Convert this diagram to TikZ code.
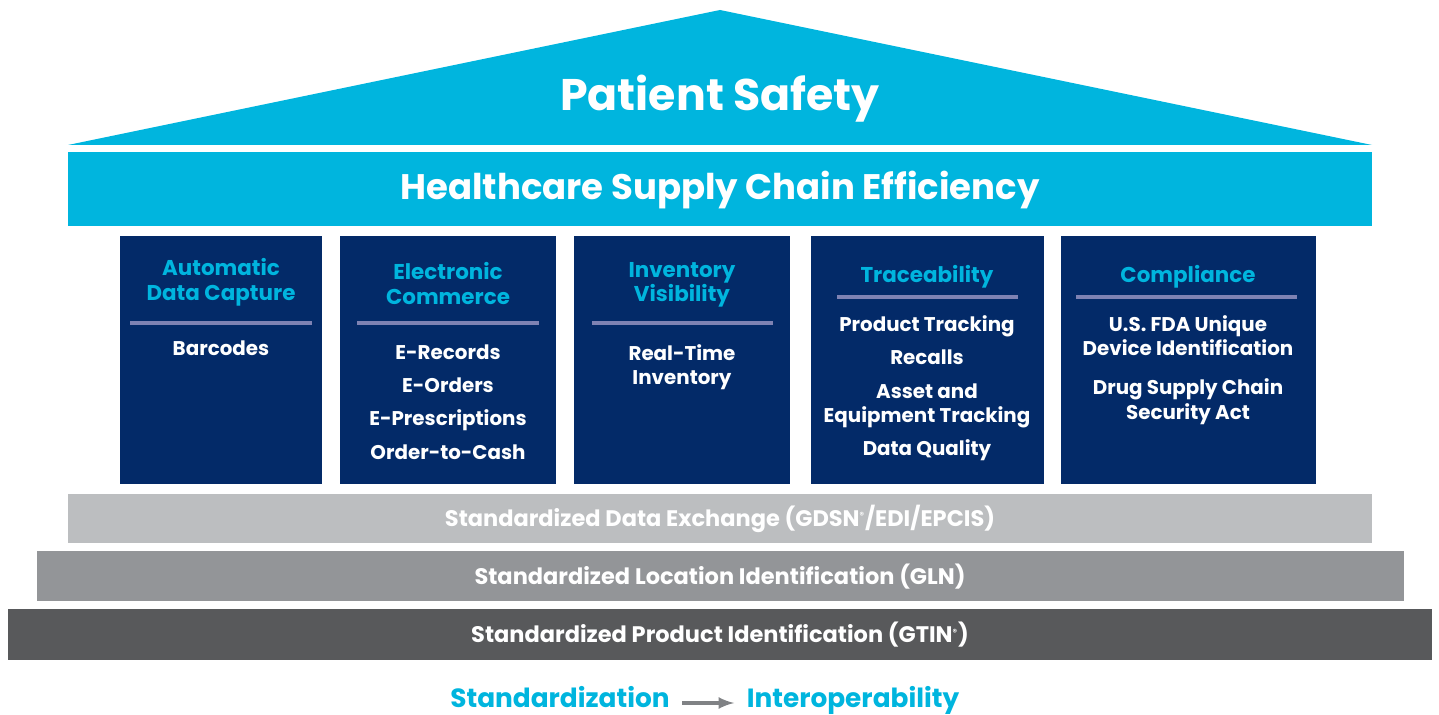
\documentclass[tikz,border=0pt]{standalone}
\usepackage{fontspec}
\setmainfont{Poppins}
\usetikzlibrary{positioning}

\definecolor{gscyan}{HTML}{00B5DE}
\definecolor{gsnavy}{HTML}{032A68}
\definecolor{gsrule}{HTML}{7E82B3}
\definecolor{gslight}{HTML}{BCBEC0}
\definecolor{gsmid}{HTML}{939598}
\definecolor{gsdark}{HTML}{58595B}
\definecolor{gsarrow}{HTML}{808285}

\newcommand{\regmark}{\textsuperscript{\tiny\textregistered}}

\tikzset{
  head/.style={text=gscyan, font=\bfseries\fontsize{12.2}{14}\selectfont, align=center, anchor=north, inner sep=0pt},
  item/.style={text=white, font=\bfseries\fontsize{11.3}{14}\selectfont, align=center, anchor=north, inner sep=0pt},
  layer/.style={text=white, font=\bfseries\fontsize{12.8}{14}\selectfont},
  tagline/.style={text=gscyan, font=\bfseries\fontsize{15}{17}\selectfont, inner sep=0pt, text height=0.75em, text depth=0.25em},
  rulebar/.style={gsrule, line width=2pt}
}

\begin{document}
\begin{tikzpicture}[x=0.02cm, y=-0.02cm]
\useasboundingbox (0,0) rectangle (1439,715);

% roof
\fill[gscyan] (68,145) -- (720,10) -- (1372,145) -- cycle;
\node[text=white, font=\bfseries\fontsize{25.2}{28}\selectfont] (roof) at (720,99) {Patient Safety};

\fill[gscyan] (68,152) rectangle (1372,226);
\node[text=white, font=\bfseries\fontsize{20.2}{22}\selectfont] (hsce) at (720,190) {Healthcare Supply Chain Efficiency};

% pillars
\fill[gsnavy] (120,236) rectangle (322,484);
\fill[gsnavy] (340,236) rectangle (556,484);
\fill[gsnavy] (574,236) rectangle (790,484);
\fill[gsnavy] (811,236) rectangle (1044,484);
\fill[gsnavy] (1061,236) rectangle (1316,484);

\node[head] (adc) at (221,258) {Automatic\\Data Capture};
\draw[rulebar] (130,323) -- (312,323);
\node[item] (adc-items) at (221,340) {Barcodes};

\node[head] (ecom) at (448,262) {Electronic\\Commerce};
\draw[rulebar] (357,323) -- (539,323);
\node[item] (ecom-items) at (448,344) {E-Records\\[5pt]E-Orders\\[5pt]E-Prescriptions\\[5pt]Order-to-Cash};

\node[head] (invis) at (682,262) {Inventory\\Visibility};
\draw[rulebar] (592,323) -- (773,323);
\node[item] (invis-items) at (682,344) {Real-Time\\Inventory};

\node[head] (trace) at (927,265) {Traceability};
\draw[rulebar] (837,297) -- (1018,297);
\node[item] (trace-items) at (927,315) {Product Tracking\\[5pt]Recalls\\[5pt]Asset and\\Equipment Tracking\\[5pt]Data Quality};

\node[head] (compl) at (1188,265) {Compliance};
\draw[rulebar] (1076,297) -- (1297,297);
\node[item] (compl-items) at (1188,315) {U.S. FDA Unique\\Device Identification\\[8pt]Drug Supply Chain\\Security Act};

% foundation layers
\fill[gslight] (68,494) rectangle (1372,543);
\node[layer] (gdsn) at (720,519) {Standardized Data Exchange (GDSN\regmark/EDI/EPCIS)};

\fill[gsmid] (37,551) rectangle (1404,601);
\node[layer] (gln) at (720,577) {Standardized Location Identification (GLN)};

\fill[gsdark] (8,609) rectangle (1432,660);
\node[layer] (gtin) at (720,635) {Standardized Product Identification (GTIN\regmark)};

% bottom line
\node[tagline] (std) at (560,703) {Standardization};
\node[tagline] (inter) at (853,703) {Interoperability};
\draw[gsarrow, line width=2pt, -latex, shorten <=7pt, shorten >=7pt] (std) -- (inter);
\end{tikzpicture}
\end{document}
